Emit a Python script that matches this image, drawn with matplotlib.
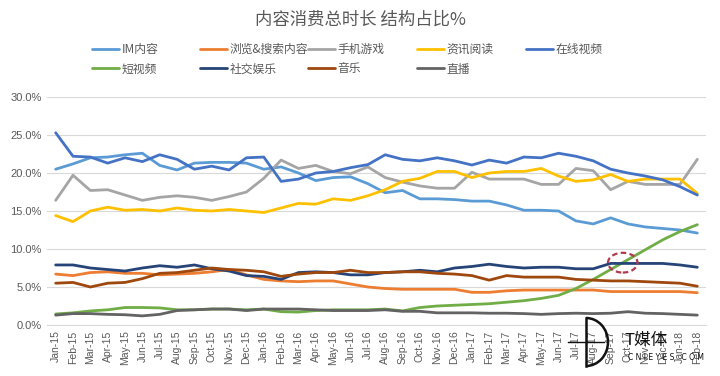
import matplotlib
matplotlib.use("Agg")
import matplotlib.pyplot as plt
from matplotlib.patches import Ellipse, Arc
from matplotlib.lines import Line2D

plt.rcParams['font.family'] = ['Noto Sans CJK SC', 'DejaVu Sans']

months = ["Jan-15", "Feb-15", "Mar-15", "Apr-15", "May-15", "Jun-15", "Jul-15", "Aug-15",
          "Sep-15", "Oct-15", "Nov-15", "Dec-15", "Jan-16", "Feb-16", "Mar-16", "Apr-16",
          "May-16", "Jun-16", "Jul-16", "Aug-16", "Sep-16", "Oct-16", "Nov-16", "Dec-16",
          "Jan-17", "Feb-17", "Mar-17", "Apr-17", "May-17", "Jun-17", "Jul-17", "Aug-17",
          "Sep-17", "Oct-17", "Nov-17", "Dec-17", "Jan-18", "Feb-18"]

im_content = [20.5, 21.2, 22.0, 22.1, 22.4, 22.6, 21.0, 20.4, 21.3, 21.4, 21.4, 21.3,
              20.5, 20.8, 20.0, 19.0, 19.4, 19.5, 18.6, 17.4, 17.7, 16.6, 16.6, 16.5,
              16.3, 16.3, 15.8, 15.1, 15.1, 15.0, 13.7, 13.3, 14.1, 13.3, 12.9, 12.7,
              12.5, 12.1]
browse_search = [6.7, 6.5, 6.9, 7.0, 6.8, 6.8, 6.6, 6.7, 6.8, 7.0, 7.3, 6.6,
                 6.0, 5.8, 5.7, 5.8, 5.8, 5.4, 5.0, 4.8, 4.7, 4.7, 4.7, 4.7,
                 4.3, 4.3, 4.5, 4.6, 4.6, 4.6, 4.6, 4.6, 4.4, 4.4, 4.4, 4.4,
                 4.4, 4.25]
mobile_games = [16.4, 19.7, 17.7, 17.8, 17.1, 16.4, 16.8, 17.0, 16.8, 16.4, 16.9, 17.5,
                19.3, 21.7, 20.6, 21.0, 20.2, 19.9, 20.8, 19.4, 18.8, 18.3, 18.0, 18.0,
                20.1, 19.2, 19.2, 19.2, 18.5, 18.5, 20.6, 20.3, 17.8, 18.9, 18.5, 18.5,
                18.5, 21.8]
news_reading = [14.4, 13.6, 15.0, 15.5, 15.1, 15.2, 15.0, 15.4, 15.1, 15.0, 15.2, 15.0,
                14.8, 15.4, 16.0, 15.9, 16.6, 16.4, 17.0, 17.8, 18.9, 19.3, 20.2, 20.2,
                19.4, 20.0, 20.2, 20.2, 20.6, 19.6, 18.9, 19.1, 19.8, 18.9, 19.2, 19.2,
                19.2, 17.3]
online_video = [25.3, 22.2, 22.1, 21.3, 22.0, 21.5, 22.4, 21.8, 20.5, 20.9, 20.4, 22.0,
                22.1, 18.9, 19.2, 20.0, 20.2, 20.7, 21.1, 22.4, 21.8, 21.6, 22.0, 21.6,
                21.05, 21.7, 21.3, 22.1, 22.0, 22.6, 22.2, 21.6, 20.5, 20.0, 19.6, 19.1,
                18.2, 17.1]
short_video = [1.45, 1.6, 1.85, 2.0, 2.3, 2.3, 2.25, 2.0, 2.0, 2.1, 2.1, 2.0,
               2.1, 1.75, 1.7, 1.9, 2.0, 2.0, 2.0, 2.1, 1.85, 2.3, 2.5, 2.6,
               2.7, 2.8, 3.0, 3.2, 3.5, 3.9, 4.8, 6.0, 7.3, 8.6, 9.9, 11.2,
               12.3, 13.2]
social_ent = [7.9, 7.9, 7.5, 7.3, 7.1, 7.5, 7.8, 7.6, 7.9, 7.4, 7.1, 6.5,
              6.4, 6.0, 6.9, 7.0, 6.9, 6.6, 6.6, 6.9, 7.0, 7.2, 7.0, 7.5,
              7.7, 8.0, 7.7, 7.5, 7.6, 7.6, 7.4, 7.4, 8.1, 8.1, 8.1, 8.1,
              7.9, 7.6]
music = [5.5, 5.6, 5.0, 5.5, 5.6, 6.1, 6.8, 6.9, 7.2, 7.5, 7.3, 7.2,
         7.0, 6.4, 6.7, 6.9, 6.9, 7.2, 6.9, 6.9, 7.0, 7.0, 6.8, 6.7,
         6.5, 5.9, 6.5, 6.3, 6.3, 6.3, 6.0, 5.9, 5.8, 5.8, 5.7, 5.6,
         5.5, 5.1]
live_stream = [1.3, 1.5, 1.5, 1.4, 1.35, 1.2, 1.4, 1.9, 2.0, 2.1, 2.1, 1.9,
               2.1, 2.1, 2.1, 2.0, 1.9, 1.9, 1.9, 2.0, 1.8, 1.8, 1.6, 1.6,
               1.6, 1.55, 1.55, 1.5, 1.4, 1.5, 1.55, 1.5, 1.55, 1.75, 1.55, 1.5,
               1.4, 1.3]

series_names = ["IM内容", "浏览&搜索内容", "手机游戏", "资讯阅读", "在线视频",
                "短视频", "社交娱乐", "音乐", "直播"]
series_values = [im_content, browse_search, mobile_games, news_reading, online_video,
                 short_video, social_ent, music, live_stream]
series_colors = ["#5B9BD5", "#ED7D31", "#A5A5A5", "#FFC000", "#4472C4",
                 "#70AD47", "#264478", "#9E480E", "#636363"]

ytick_vals = [0, 5, 10, 15, 20, 25, 30]
ytick_labels = ["0.0%", "5.0%", "10.0%", "15.0%", "20.0%", "25.0%", "30.0%"]

title = "内容消费总时长 结构占比%"

fig = plt.figure(figsize=(7.2, 3.76), dpi=100)
ax = fig.add_axes([47 / 720, 1 - 325 / 376, (706 - 47) / 720, (325 - 97) / 376])

x = list(range(len(months)))
lines = []
for name, vals, col in zip(series_names, series_values, series_colors):
    ln, = ax.plot(x, vals, color=col, lw=2.0, label=name, solid_capstyle='round',
                  solid_joinstyle='round')
    lines.append(ln)

ax.set_xlim(-0.5, len(months) - 0.5)
ax.set_ylim(0, 30)
ax.set_yticks(ytick_vals)
ax.set_yticklabels(ytick_labels, family=['Liberation Sans', 'DejaVu Sans'],
                   fontsize=8, color="#595959")
ax.set_xticks(x)
ax.set_xticklabels(months, rotation=90, family=['Liberation Sans', 'DejaVu Sans'],
                   fontsize=7.5, color="#595959")
ax.tick_params(axis='both', length=0, pad=4)
ax.grid(axis='y', color="#D9D9D9", lw=0.8)
ax.set_axisbelow(True)
for s in ["top", "right", "left"]:
    ax.spines[s].set_visible(False)
ax.spines["bottom"].set_color("#D9D9D9")
ax.spines["bottom"].set_linewidth(0.8)

# highlight ellipse
ax.add_patch(Ellipse((32.7, 8.2), 1.7, 2.6, fill=False, edgecolor="#B03A4E",
                     lw=1.6, ls=(0, (2.5, 1.5)), zorder=5))

fig.text(0.5, 1 - 20 / 376, title, ha='center', va='center', fontsize=12.5,
         color="#595959")

# legend: columns positioned like Excel
col_x = [92, 200, 308, 417, 526]
cols = [[0, 5], [1, 6], [2, 7], [3, 8], [4]]
for cx, idxs in zip(col_x, cols):
    fig.legend([lines[i] for i in idxs], [series_names[i] for i in idxs],
               loc='upper left', bbox_to_anchor=(cx / 720, 1 - 43 / 376),
               frameon=False, fontsize=8.5, handlelength=2.3,
               handletextpad=0.2, borderpad=0, borderaxespad=0,
               labelspacing=0.55, labelcolor="#595959")

# watermark logo (overlay in the reference)
def fx(px):
    return px / 720


def fy(py):
    return 1 - py / 376


fig.add_artist(Line2D([fx(586), fx(586)], [fy(318), fy(366)], color="#111111", lw=1.8,
                      transform=fig.transFigure))
fig.add_artist(Arc((fx(586), fy(342)), 2 * 22 / 720, 48 / 376, theta1=-90, theta2=90,
                   color="#111111", lw=1.8, transform=fig.transFigure))
fig.add_artist(Line2D([fx(568), fx(604)], [fy(342), fy(342)], color="#111111", lw=1.0,
                      transform=fig.transFigure))
fig.text(fx(646), fy(340), "T媒体", ha='center', va='center', fontsize=12,
         color="#111111")
fig.text(fx(666), fy(357), "C N I E Y E S . C O M", ha='center', va='center',
         fontsize=5.5, color="#111111", family=['DejaVu Sans'])

fig.savefig("out.png", dpi=100)
